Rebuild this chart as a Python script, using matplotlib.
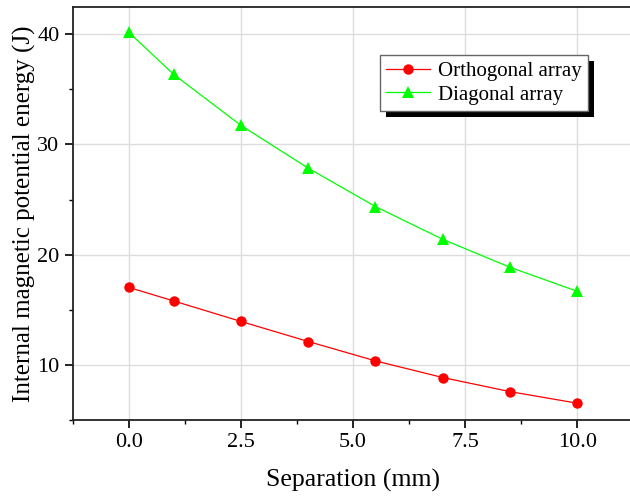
import matplotlib
matplotlib.use("Agg")
import matplotlib.pyplot as plt
from matplotlib.patches import Rectangle
from matplotlib.ticker import MultipleLocator

plt.rcParams['font.family'] = ['Liberation Serif', 'DejaVu Serif']
plt.rcParams['mathtext.fontset'] = 'stix'

separation = [0.0, 1.0, 2.5, 4.0, 5.5, 7.0, 8.5, 10.0]
orthogonal = [17.03, 15.80, 13.94, 12.12, 10.36, 8.85, 7.57, 6.52]
diagonal = [40.18, 36.36, 31.73, 27.85, 24.36, 21.39, 18.85, 16.67]

fig = plt.figure(figsize=(6.3, 4.97), dpi=100)
ax = fig.add_axes([0.1154, 0.155, 0.890, 0.8315])

ax.plot(separation, orthogonal, color='#ff0000', lw=0.9, marker='o',
        markersize=7.5, markeredgewidth=0, label='Orthogonal array')
ax.plot(separation, diagonal, color='#00ff00', lw=0.9, marker='^',
        markersize=8.5, markeredgewidth=0, label='Diagonal array')

ax.set_xlim(-1.25, 11.25)
ax.set_ylim(5, 42.5)
ax.xaxis.set_major_locator(MultipleLocator(2.5))
ax.xaxis.set_minor_locator(MultipleLocator(1.25))
ax.yaxis.set_major_locator(MultipleLocator(10))
ax.yaxis.set_minor_locator(MultipleLocator(5))
ax.xaxis.set_major_formatter(plt.FuncFormatter(lambda v, p: f"{v:.1f}"))

ax.grid(True, which='major', color='#dddddd', lw=1.0)
ax.set_axisbelow(True)
for side in ['left', 'bottom', 'top', 'right']:
    ax.spines[side].set_linewidth(1.3)
    ax.spines[side].set_color('#222222')

ax.tick_params(which='major', direction='out', length=5.5, width=1.2,
               labelsize=16, colors='black', pad=4)
ax.tick_params(which='minor', direction='out', length=3, width=1.0)

ax.set_xlabel('Separation (mm)', fontsize=18.5, labelpad=12)
ax.set_ylabel('Internal magnetic potential energy (J)', fontsize=18, labelpad=1)

leg = ax.legend(loc='upper left', bbox_to_anchor=(0.548, 0.883),
                borderaxespad=0, frameon=True, fancybox=False, fontsize=15,
                handlelength=2.1, handletextpad=0.4, borderpad=0.3,
                labelspacing=0.2, framealpha=1)
leg.get_frame().set_edgecolor('#666666')
leg.get_frame().set_linewidth(1.0)

fig.canvas.draw()
bb = leg.get_window_extent()
shadow = Rectangle((bb.x0 + 6, bb.y0 - 6), bb.width, bb.height,
                   transform=None, facecolor='black', edgecolor='none',
                   zorder=4)
fig.add_artist(shadow)
leg.remove()
fig.add_artist(leg)
leg.set_zorder(6)

fig.savefig('out.png', dpi=100)
